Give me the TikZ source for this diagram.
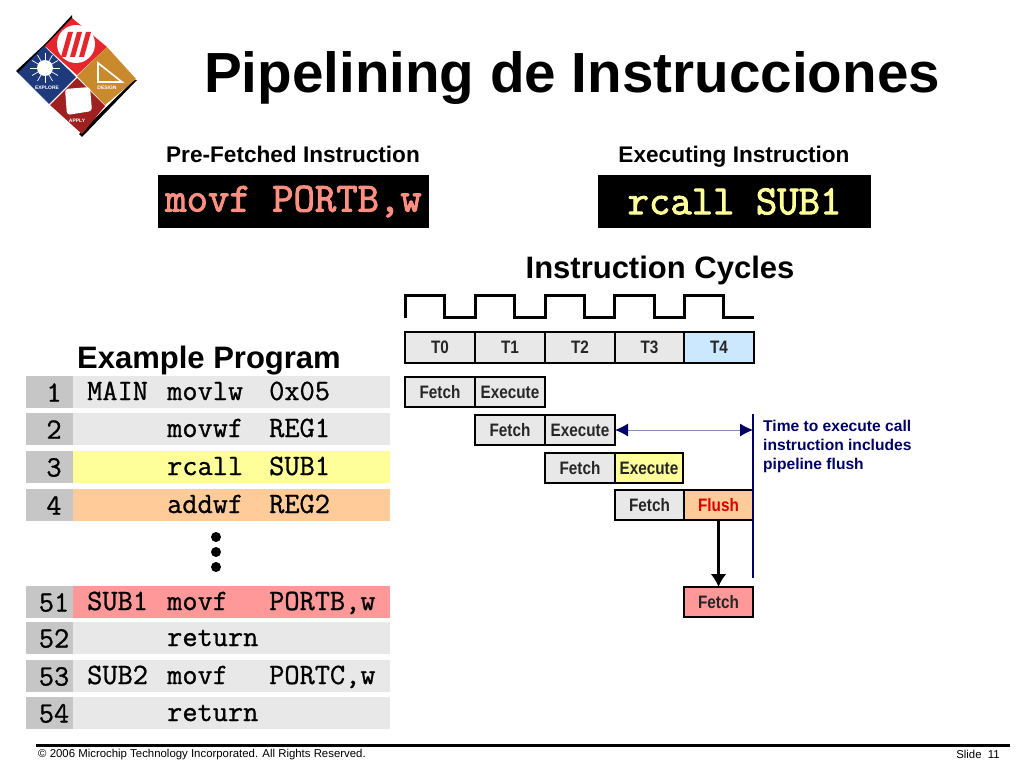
\documentclass[tikz,border=0pt]{standalone}
\usepackage{fontspec}
\setmainfont{Liberation Sans}
\newfontfamily\cellfont[FakeStretch=0.85]{Liberation Sans}
\newfontfamily\codefont[FakeBold=0.9]{Latin Modern Mono}
\newfontfamily\opfont[FakeBold=2.2]{Latin Modern Mono}
\usetikzlibrary{arrows.meta}
\definecolor{cellgray}{HTML}{E8E8E8}
\definecolor{numgray}{HTML}{C6C6C6}
\definecolor{rowyellow}{HTML}{FFFF99}
\definecolor{roworange}{HTML}{FFCC99}
\definecolor{rowred}{HTML}{FF9999}
\definecolor{cellblue}{HTML}{CCE8FF}
\definecolor{salmon}{HTML}{FF8F80}
\definecolor{navyline}{HTML}{000066}
\definecolor{logored}{HTML}{E5262C}
\definecolor{logogold}{HTML}{C98A2E}
\definecolor{logomaroon}{HTML}{9E2020}
\definecolor{logoblue}{HTML}{1F3A7C}
\newcommand{\fsize}[1]{\fontsize{#1}{#1}\selectfont}
\tikzset{
  cell/.style={draw=black,line width=1.5pt,outer sep=0pt,fill=cellgray,inner sep=0pt,
    font=\cellfont\bfseries\fsize{18},text=black!85},
  codetxt/.style={anchor=base west,inner sep=0pt,font=\codefont\fsize{29.5}},
  heading/.style={inner sep=0pt,font=\bfseries\fsize{31}},
  subheading/.style={inner sep=0pt,font=\bfseries\fsize{22.6}},
  opbox/.style={fill=black,inner sep=0pt,font=\opfont\fsize{41.5}},
  logotxt/.style={inner sep=0pt,text=white,font=\bfseries\fsize{5}}
}
\begin{document}
\begin{tikzpicture}[x=1pt,y=-1pt]
  \useasboundingbox (0,0) rectangle (1024,768);
  % logo
  \fill[black] (72,15) -- (46,43) -- (16,71) -- (19,74) -- (72,19) -- cycle;
  \fill[black] (137,80) -- (82,137) -- (79,134) -- (134,80) -- cycle;
  \fill[logored] (72,18) -- (107,47) -- (77,75) -- (45,46) -- cycle;
  \fill[logogold] (107,47) -- (136,79) -- (105,105) -- (77,76) -- cycle;
  \fill[logomaroon] (77,78) -- (105,106) -- (82,134) -- (50,105) -- cycle;
  \fill[logoblue] (44,46) -- (76,77) -- (49,104) -- (18,73) -- cycle;
  \fill[white] (76,44) circle (19);
  \foreach \sx in {61,70,79}
    \fill[logored] (\sx,57) -- (\sx+7,32) -- (\sx+12,32) -- (\sx+5,57) -- cycle;
  \draw[white,line width=1.6pt] (98,63) -- (122,82) -- (98,82) -- cycle;
  \fill[white] (45,68) circle (8);
  \foreach \ang in {0,30,...,330}
    \draw[white,line width=.7pt] (45,68) -- ++(\ang:15);
  \fill[white,rounded corners=3pt] (65,89) -- (90,87) -- (92,111) -- (67,115) -- cycle;
  \node[logotxt] (logoexplore) at (47,88) {EXPLORE};
  \node[logotxt] (logodesign) at (107,88) {DESIGN};
  \node[logotxt] (logoapply) at (77,121) {APPLY};
  % title
  \node[inner sep=0pt,font=\bfseries\fsize{56.6}] (title) at (572,78) {Pipelining de Instrucciones};
  % current instructions
  \node[subheading] (prelabel) at (293,154) {Pre-Fetched Instruction};
  \node[subheading] (exelabel) at (734,157) {Executing Instruction};
  \node[opbox,minimum width=271,minimum height=53,text=salmon] (prebox) at (293.5,201.5) {movf PORTB,w};
  \node[opbox,minimum width=273,minimum height=53,text=rowyellow] (exebox) at (734.5,201.5) {rcall SUB1};
  \node[heading] (cycles) at (660,270) {Instruction Cycles};
  \node[heading] (example) at (209,361) {Example Program};
  % program listing
  \foreach \num/\ytop/\rowc/\lbl/\mnem/\oper in {
      1/376/cellgray/MAIN/movlw/0x05,
      2/413/cellgray//movwf/REG1,
      3/451/rowyellow//rcall/SUB1,
      4/489/roworange//addwf/REG2,
      51/586/rowred/SUB1/movf/{PORTB,w},
      52/622/cellgray//return/,
      53/660/cellgray/SUB2/movf/{PORTC,w},
      54/697/cellgray//return/}{
    \fill[\rowc] (73,\ytop) rectangle (390,\ytop+32);
    \fill[numgray] (26,\ytop) rectangle (73,\ytop+32);
    \node[inner sep=0pt,font=\codefont\fsize{29.5}] (n\num) at (54,\ytop+16.5) {\num};
    \node[codetxt] (lbl\num) at (87,\ytop+24) {\lbl};
    \node[codetxt] (mn\num) at (167,\ytop+24) {\mnem};
    \node[codetxt] (op\num) at (269,\ytop+24) {\oper};
  }
  \foreach \yy in {537,552,567}
    \fill[black] (216,\yy) circle (5);
  % clock
  \draw[black,line width=3pt] (405,318) -- (405,295) -- (444,295) -- (444,317) -- (475,317)
    -- (475,295) -- (514,295) -- (514,317) -- (545,317) -- (545,295) -- (584,295) -- (584,317)
    -- (614,317) -- (614,295) -- (654,295) -- (654,317) -- (684,317) -- (684,295) -- (723,295)
    -- (723,317) -- (754,317);
  % cycle cells
  \foreach \tname/\xa/\xb/\cellc in {T0/405/475/cellgray,T1/475/545/cellgray,T2/545/615/cellgray,
      T3/615/684/cellgray,T4/684/754/cellblue}{
    \node[cell,anchor=north west,minimum width=\xb-\xa,minimum height=31,fill=\cellc] (\tname) at (\xa,332) {\tname};
  }
  % pipeline stages
  \node[cell,anchor=north west,minimum width=70,minimum height=30] (fetcha) at (405,377) {Fetch};
  \node[cell,anchor=north west,minimum width=70,minimum height=30] (exea) at (475,377) {Execute};
  \node[cell,anchor=north west,minimum width=70,minimum height=30] (fetchb) at (475,415) {Fetch};
  \node[cell,anchor=north west,minimum width=70,minimum height=30] (exeb) at (545,415) {Execute};
  \node[cell,anchor=north west,minimum width=70,minimum height=30] (fetchc) at (545,453) {Fetch};
  \node[cell,anchor=north west,minimum width=68,minimum height=30,fill=rowyellow] (exec) at (615,453) {Execute};
  \node[cell,anchor=north west,minimum width=69,minimum height=30] (fetchd) at (615,490) {Fetch};
  \node[cell,anchor=north west,minimum width=69,minimum height=30,fill=roworange,text=red!85!black] (flush) at (684,490) {Flush};
  \node[cell,anchor=north west,minimum width=69,minimum height=30,fill=rowred] (fetche) at (684,587) {Fetch};
  % flush span
  \coordinate (spantop) at (753,414);
  \coordinate (spanbot) at (753,578);
  \coordinate (spanmid) at (753,430);
  \draw[navyline,line width=2pt] (spantop) -- (spanbot);
  \draw[navyline!45,line width=1pt,{Latex[navyline,length=13pt,width=13pt]}-{Latex[navyline,length=13pt,width=13pt]}]
    (exeb.east) -- (spanmid);
  \draw[black,line width=3pt,-{Latex[length=13pt,width=16pt]}] (flush.south) -- (fetche.north);
  \node[anchor=north west,inner sep=0pt,align=left,text=navyline,font=\bfseries\fontsize{15.6}{19}\selectfont]
    (note) at (763,420) {Time to execute call\\instruction includes\\pipeline flush};
  % footer
  \coordinate (footl) at (36,745.5);
  \coordinate (footr) at (1010,745.5);
  \draw[black,line width=3pt] (footl) -- (footr);
  \node[anchor=west,inner sep=0pt,font=\fsize{11.4}] (copyright) at (38,754.5)
    {\textcopyright{} 2006 Microchip Technology Incorporated. All Rights Reserved.};
  \node[anchor=east,inner sep=0pt,font=\fsize{11.4}] (slide) at (1000,754.5) {Slide\ \ 11};
\end{tikzpicture}
\end{document}
